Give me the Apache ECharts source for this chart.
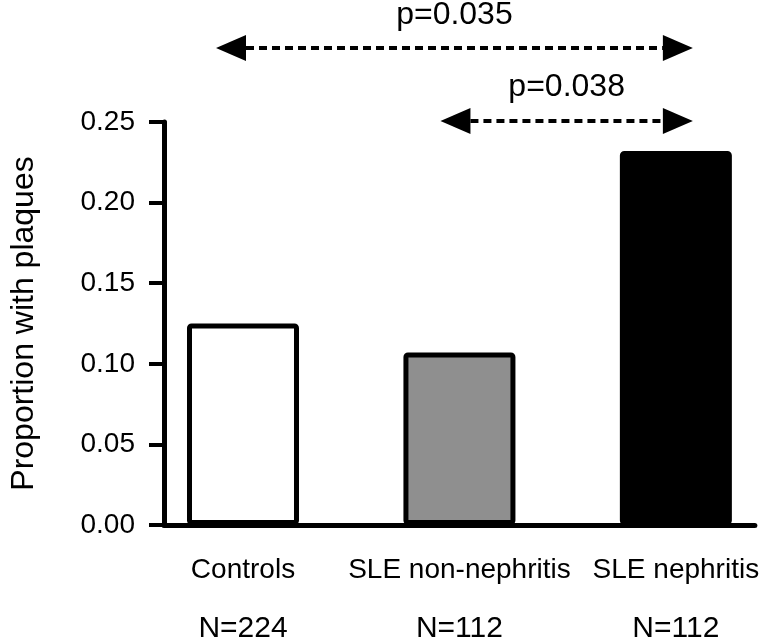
<!DOCTYPE html>
<html>
<head>
<meta charset="utf-8">
<script src="https://cdn.jsdelivr.net/npm/echarts@6/dist/echarts.min.js"></script>
<style>html,body{margin:0;padding:0;background:#fff}#c{width:760px;height:644px}</style>
</head>
<body>
<div id="c"></div>
<script>
var categories = ['Controls', 'SLE non-nephritis', 'SLE nephritis'];
var sampleSizes = ['N=224', 'N=112', 'N=112'];
var proportions = [0.125, 0.107, 0.232];
var barColors = ['#ffffff', '#8f8f8f', '#000000'];
var yTicks = [0, 0.05, 0.10, 0.15, 0.20, 0.25];
var comparisons = [
  { from: 0, to: 2, label: 'p=0.035' },
  { from: 1, to: 2, label: 'p=0.038' }
];

var FONT = '"Liberation Sans", Arial, sans-serif';
var chart = echarts.init(document.getElementById('c'), null, { renderer: 'canvas' });

chart.setOption({
  animation: false,
  backgroundColor: '#fff',
  grid: { left: 148, right: 2, top: 122, bottom: 116, containLabel: false },
  xAxis: {
    type: 'value',
    min: -0.365,
    max: 2.365,
    splitLine: { show: false },
    axisLine: { show: true, onZero: false, lineStyle: { color: '#000', width: 5 } },
    axisTick: { show: false },
    axisLabel: {
      customValues: categories.map(function (c, i) { return i; }),
      formatter: function (v) {
        var i = Math.round(v);
        return '{c|' + categories[i] + '}\n{n|' + sampleSizes[i] + '}';
      },
      color: '#000',
      fontFamily: FONT,
      margin: 30,
      rich: {
        c: { fontFamily: FONT, fontSize: 28, lineHeight: 30, color: '#000' },
        n: { fontFamily: FONT, fontSize: 30, lineHeight: 88, color: '#000' }
      }
    }
  },
  yAxis: {
    type: 'value',
    min: yTicks[0],
    max: yTicks[yTicks.length - 1],
    interval: 0.05,
    name: 'Proportion with plaques',
    nameLocation: 'middle',
    nameGap: 124,
    nameTextStyle: { color: '#000', fontFamily: FONT, fontSize: 32 },
    splitLine: { show: false },
    axisLine: { show: true, onZero: false, lineStyle: { color: '#000', width: 5 } },
    axisTick: { show: true, length: 15, lineStyle: { color: '#000', width: 4 } },
    axisLabel: {
      formatter: function (v) { return v.toFixed(2); },
      color: '#000',
      fontFamily: FONT,
      fontSize: 28,
      margin: 29
    }
  },
  series: [{
    type: 'bar',
    barWidth: 112,
    data: proportions.map(function (p, i) {
      return {
        value: [i, p],
        itemStyle: { color: barColors[i], borderColor: '#000', borderWidth: 5, borderRadius: 2 }
      };
    })
  }]
});

// comparison arrows, positioned from the chart's own scale
var arrowY = [48, 121];
var textY = [15, 87];
var leftPad = [-27, -19];
var rightPad = 17;
var HEAD_L = 30, HEAD_H = 13;
var graphics = [];
comparisons.forEach(function (c, k) {
  var x1 = chart.convertToPixel({ xAxisIndex: 0 }, c.from) + leftPad[k];
  var x2 = chart.convertToPixel({ xAxisIndex: 0 }, c.to) + rightPad;
  var y = arrowY[k];
  graphics.push({
    type: 'line',
    shape: { x1: x1 + HEAD_L, y1: y, x2: x2 - HEAD_L, y2: y },
    style: { stroke: '#000', lineWidth: 4, lineDash: [8, 5] }
  });
  graphics.push({
    type: 'polygon',
    shape: { points: [[x1, y], [x1 + HEAD_L, y - HEAD_H], [x1 + HEAD_L, y + HEAD_H]] },
    style: { fill: '#000' }
  });
  graphics.push({
    type: 'polygon',
    shape: { points: [[x2, y], [x2 - HEAD_L, y - HEAD_H], [x2 - HEAD_L, y + HEAD_H]] },
    style: { fill: '#000' }
  });
  graphics.push({
    type: 'text',
    x: (x1 + x2) / 2,
    y: textY[k],
    style: {
      text: c.label, fill: '#000', font: '32px ' + FONT,
      textAlign: 'center', textVerticalAlign: 'middle'
    }
  });
});
chart.setOption({ graphic: graphics });
</script>
</body>
</html>
